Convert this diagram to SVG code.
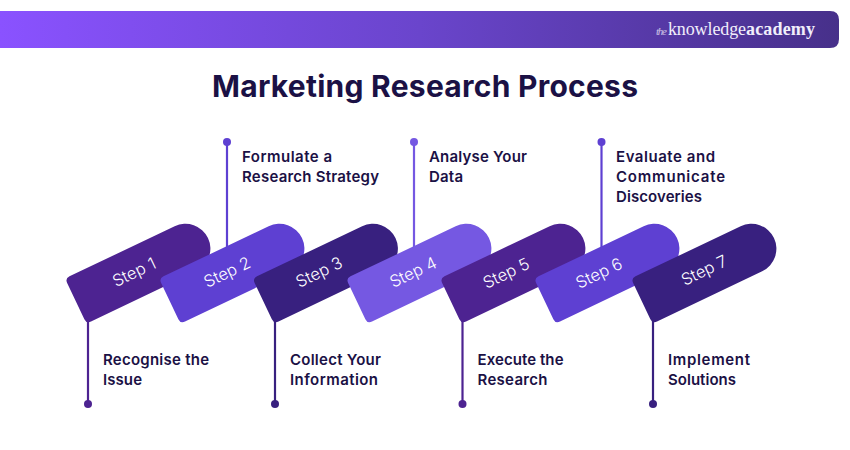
<svg xmlns="http://www.w3.org/2000/svg" width="850" height="450" viewBox="0 0 850 450">
<style>
.lab{font-family:"Inter","Noto Sans",sans-serif;font-size:15px;font-weight:600;fill:#1b1145}
.st{font-family:"Inter","Noto Sans",sans-serif;font-size:16.5px;font-weight:300;fill:#ffffff;text-anchor:middle}
.ln{fill:none;stroke-width:2.2}
.c1{fill:#4d2391}.c2{fill:#5e40d2}.c3{fill:#38207f}.c4{fill:#7558e2}
.s1{stroke:#4d2391}.s2{stroke:#5e40d2}.s3{stroke:#38207f}.s4{stroke:#7558e2}
.logo{font-family:"Liberation Serif",serif;font-size:18px;fill:#f1eefb}
</style>
<defs>
<linearGradient id="hdr" x1="0" y1="0" x2="1" y2="0"><stop offset="0" stop-color="#8a52ff"/><stop offset="0.5" stop-color="#6a45cc"/><stop offset="1" stop-color="#47308a"/></linearGradient>
<path id="pill" d="M-2.500,-20 Q-2.500,-25 2.500,-25 H119 A25,25 0 0 1 119,25 H2.500 Q-2.500,25 -2.500,20 Z"/>
</defs>
<rect width="850" height="450" fill="#fff"/>
<g id="header">
<path d="M0,11 H830 Q839,11 839,20 V39 Q839,48 830,48 H0 Z" fill="url(#hdr)"/>
<text class="logo" x="656" y="35" font-style="italic" style="font-size:11px;opacity:.75" textLength="11">the</text>
<text class="logo" x="668" y="35" textLength="78">knowledge</text>
<text class="logo" x="746" y="35" style="font-weight:700" textLength="69">academy</text>
</g>
<text id="title" x="212" y="97" textLength="426" style="font-family:Inter,'Noto Sans',sans-serif;font-size:30px;font-weight:700;fill:#1b1145">Marketing Research Process</text>
<g id="connectors">
<path class="ln s1" d="M88,318 V404"/><circle class="c1" cx="88" cy="404" r="4"/>
<path class="ln s2" d="M227,142 V250"/><circle class="c2" cx="227" cy="142" r="4"/>
<path class="ln s3" d="M275,318 V404"/><circle class="c3" cx="275" cy="404" r="4"/>
<path class="ln s4" d="M414,142 V250"/><circle class="c4" cx="414" cy="142" r="4"/>
<path class="ln s1" d="M462.500,318 V404"/><circle class="c1" cx="462.500" cy="404" r="4"/>
<path class="ln s2" d="M601.500,142 V250"/><circle class="c2" cx="601.500" cy="142" r="4"/>
<path class="ln s3" d="M653,318 V404"/><circle class="c3" cx="653" cy="404" r="4"/>
</g>
<g id="step1"><use href="#pill" class="c1" transform="translate(78,300) rotate(-25.500)"/><text class="st" transform="translate(134,272) rotate(-25.500)" y="6">Step 1</text>
<text class="lab" x="103" y="365" textLength="106">Recognise the</text><text class="lab" x="103" y="385" textLength="39">Issue</text></g>
<g id="step2"><use href="#pill" class="c2" transform="translate(172,300) rotate(-25.500)"/><text class="st" transform="translate(227,272) rotate(-25.500)" y="6">Step 2</text>
<text class="lab" x="242" y="162" textLength="90">Formulate a</text><text class="lab" x="242" y="182" textLength="137">Research Strategy</text></g>
<g id="step3"><use href="#pill" class="c3" transform="translate(265.500,300) rotate(-25.500)"/><text class="st" transform="translate(319,272) rotate(-25.500)" y="6">Step 3</text>
<text class="lab" x="290" y="365" textLength="91">Collect Your</text><text class="lab" x="290" y="385" textLength="88">Information</text></g>
<g id="step4"><use href="#pill" class="c4" transform="translate(359,300) rotate(-25.500)"/><text class="st" transform="translate(413,272) rotate(-25.500)" y="6">Step 4</text>
<text class="lab" x="429" y="162" textLength="98">Analyse Your</text><text class="lab" x="429" y="182" textLength="34">Data</text></g>
<g id="step5"><use href="#pill" class="c1" transform="translate(453,300) rotate(-25.500)"/><text class="st" transform="translate(506,273) rotate(-25.500)" y="6">Step 5</text>
<text class="lab" x="477.500" y="365" textLength="86">Execute the</text><text class="lab" x="477.500" y="385" textLength="70">Research</text></g>
<g id="step6"><use href="#pill" class="c2" transform="translate(547,300) rotate(-25.500)"/><text class="st" transform="translate(599,273) rotate(-25.500)" y="6">Step 6</text>
<text class="lab" x="616" y="162" textLength="99">Evaluate and</text><text class="lab" x="616" y="182" textLength="109">Communicate</text><text class="lab" x="616" y="202" textLength="86">Discoveries</text></g>
<g id="step7"><use href="#pill" class="c3" transform="translate(644,300) rotate(-25.500)"/><text class="st" transform="translate(704,270) rotate(-25.500)" y="6">Step 7</text>
<text class="lab" x="668" y="365" textLength="82">Implement</text><text class="lab" x="668" y="385" textLength="68">Solutions</text></g>
</svg>
